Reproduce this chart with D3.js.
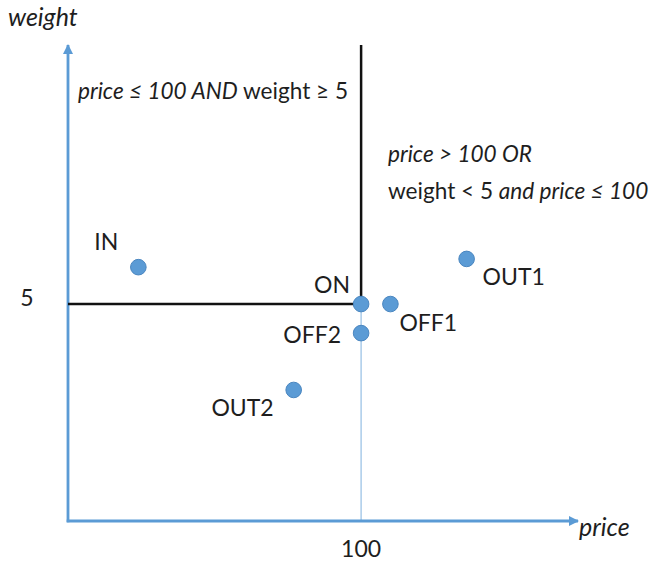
<!DOCTYPE html>
<html><head><meta charset="utf-8">
<script src="https://cdn.jsdelivr.net/npm/d3@7"></script>
<style>
body{margin:0;background:#fff;}
text{font-family:Lato,"Open Sans",sans-serif;fill:#1e1e1e;}
</style></head>
<body><svg id="c" width="653" height="563"></svg>
<script>
// Data
const names = ["IN","ON","OFF1","OFF2","OUT1","OUT2"];
const prices = [24, 100, 110, 100, 136, 77];
const weights = [5.85, 5, 5, 4.33, 6.04, 3.02];
const priceTicks = [100];
const weightTicks = [5];
const boundaryPrice = 100, boundaryWeight = 5;

// Layout
const svg = d3.select("#c");
const x = d3.scaleLinear().domain([0, 174]).range([68, 578]);
const y = d3.scaleLinear().domain([0, 10.97]).range([521, 45]);
const blue = "#5B9BD5";

// light blue lower part of boundary
svg.append("line").attr("x1", x(boundaryPrice)).attr("x2", x(boundaryPrice))
  .attr("y1", y(0)).attr("y2", y(boundaryWeight)).attr("stroke", "#9DC3E6").attr("stroke-width", 1.3);

// axes
const defs = svg.append("defs");
defs.append("marker").attr("id","arr").attr("viewBox","0 0 10 10").attr("refX",9).attr("refY",5)
  .attr("markerWidth",3.6).attr("markerHeight",3.6).attr("orient","auto")
  .append("path").attr("d","M0,0 L10,5 L0,10 z").attr("fill",blue);
svg.append("line").attr("x1", x(0)).attr("x2", x(0)).attr("y1", y(0)+1.3).attr("y2", y(10.97))
  .attr("stroke", blue).attr("stroke-width", 2.8).attr("marker-end","url(#arr)");
svg.append("line").attr("x1", x(0)-1.3).attr("x2", x(174)).attr("y1", y(0)).attr("y2", y(0))
  .attr("stroke", blue).attr("stroke-width", 2.8).attr("marker-end","url(#arr)");

// black boundary
svg.append("line").attr("x1", x(boundaryPrice)).attr("x2", x(boundaryPrice))
  .attr("y1", y(10.97)).attr("y2", y(boundaryWeight)).attr("stroke", "#111").attr("stroke-width", 2.5);
svg.append("line").attr("x1", x(0)).attr("x2", x(boundaryPrice))
  .attr("y1", y(boundaryWeight)).attr("y2", y(boundaryWeight)).attr("stroke", "#111").attr("stroke-width", 2.5);

// ticks labels
svg.selectAll(".xt").data(priceTicks).join("text").attr("x", d=>x(d)).attr("y", 557)
  .attr("text-anchor","middle").attr("font-size",23).text(d=>d);
svg.selectAll(".yt").data(weightTicks).join("text").attr("x", 27).attr("y", d=>y(d)+2)
  .attr("text-anchor","middle").attr("font-size",23).text(d=>d);

// axis titles
svg.append("text").attr("x",8).attr("y",26).attr("font-size",25).attr("font-style","italic").text("weight");
svg.append("text").attr("x",579).attr("y",536).attr("font-size",25).attr("font-style","italic").text("price");

// region annotations
const t1 = svg.append("text").attr("x",78).attr("y",99).attr("font-size",22.6);
t1.append("tspan").attr("font-style","italic").text("price ≤ 100 AND");
t1.append("tspan").text(" weight ≥ 5");
svg.append("text").attr("x",388).attr("y",162).attr("font-size",22.6).attr("font-style","italic").text("price > 100 OR");
const t3 = svg.append("text").attr("x",388).attr("y",199).attr("font-size",22.6);
t3.append("tspan").text("weight < 5 ");
t3.append("tspan").attr("font-style","italic").text("and price ≤ 100");

// points
const pts = names.map((n,i)=>({n, p:prices[i], w:weights[i]}));
svg.selectAll("circle.pt").data(pts).join("circle").attr("class","pt")
  .attr("cx", d=>x(d.p)).attr("cy", d=>y(d.w)).attr("r", 7.8)
  .attr("fill", blue).attr("stroke", "#4A86C0").attr("stroke-width", 1);

// point labels (offsets in px, styling only)
const labelOffsets = {IN:[-20,-17,"end"], ON:[-11,-11,"end"], OFF1:[9,27,"start"], OFF2:[-20,10,"end"], OUT1:[16,26,"start"], OUT2:[-20,26,"end"]};
svg.selectAll("text.pl").data(pts).join("text").attr("class","pl")
  .attr("x", d=>x(d.p)+labelOffsets[d.n][0]).attr("y", d=>y(d.w)+labelOffsets[d.n][1])
  .attr("text-anchor", d=>labelOffsets[d.n][2]).attr("font-size",23).text(d=>d.n);
</script></body></html>
